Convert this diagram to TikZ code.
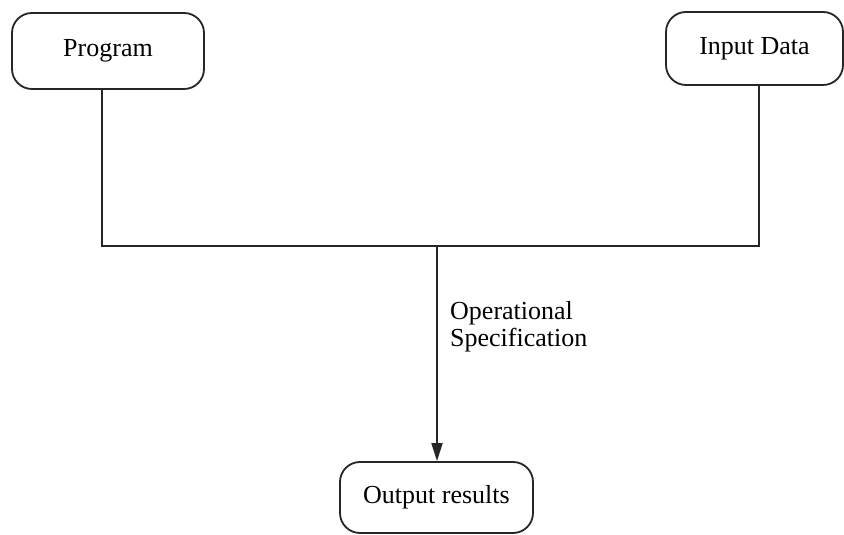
\documentclass[tikz,border=0pt]{standalone}
\usepackage{fontspec}
\setmainfont{Liberation Serif}
\usetikzlibrary{arrows.meta}
\begin{document}
\begin{tikzpicture}[x=1pt,y=1pt,
  roundbox/.style={draw=black!85, line width=1.8pt, rounded corners=20pt,
    minimum width=#1, inner sep=0pt, font=\fontsize{26}{28}\selectfont},
  wire/.style={draw=black!85, line width=1.8pt},
  lbl/.style={inner sep=0pt, anchor=base west, font=\fontsize{26}{28}\selectfont}]
\useasboundingbox (0,0) rectangle (844,535);
\fill[white] (0,0) rectangle (844,535);
% the three boxes
\node[roundbox=192pt, minimum height=76pt] (prog) at (108,484) {Program};
\node[roundbox=177pt, minimum height=73pt] (inp) at (754.5,486.5) {Input Data};
\node[roundbox=193pt, minimum height=71pt] (out) at (436.5,37.5) {Output results};
% junction points of the joining bar
\coordinate (pj) at (102,289);
\coordinate (ij) at (759,289);
\coordinate (mj) at (437,289);
\draw[wire] (pj |- prog.south) -- (pj) -- (ij) -- (ij |- inp.south);
\draw[wire, -{Triangle[length=18pt,width=11pt]}] (mj) -- (mj |- out.north);
% label of the arrow
\node[lbl] (op1) at (450,215) {Operational};
\node[lbl] (op2) at (450,188) {Specification};
\end{tikzpicture}
\end{document}
